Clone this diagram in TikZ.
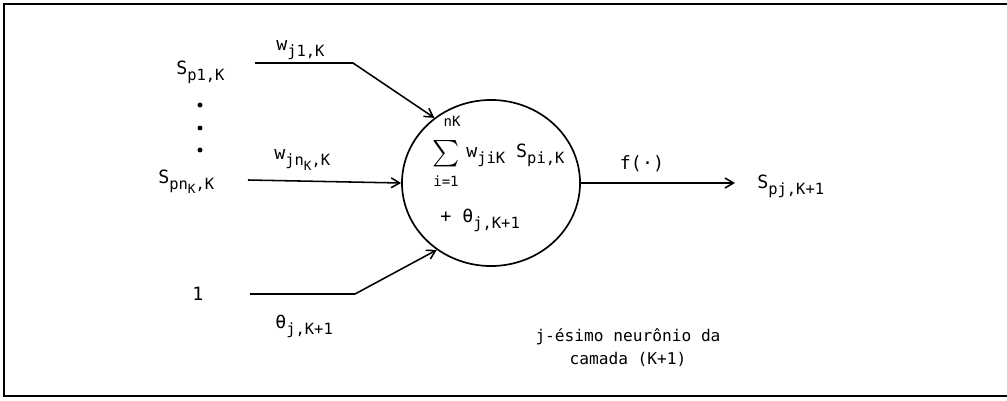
\documentclass[tikz,border=0pt]{standalone}
\usepackage{fontspec}
\setmainfont{DejaVu Sans Mono}
\usetikzlibrary{shapes.geometric,arrows.meta}
\newcommand{\sbx}[1]{\raisebox{-0.6ex}{\fontsize{11}{12}\selectfont #1}}
\newcommand{\sbxx}[1]{\raisebox{-0.5ex}{\fontsize{9}{10}\selectfont #1}}
\begin{document}
\begin{tikzpicture}[x=0.025cm,y=-0.025cm,
  lbl/.style={inner sep=0pt,font=\fontsize{13}{15}\selectfont},
  txt/.style={inner sep=0pt,font=\fontsize{11.5}{13}\selectfont},
  small/.style={inner sep=0pt,font=\fontsize{10}{11}\selectfont},
  arr/.style={line width=1.1pt,-{Straight Barb[length=6pt,width=7pt]}},
  dotm/.style={circle,fill,inner sep=0pt,minimum size=3.5pt}]
\useasboundingbox (0,0) rectangle (1007,401);
\draw[line width=1pt] (1007,4) -- (4,4) -- (4,396) -- (1007,396);
% neuron
\node[ellipse,draw,line width=1.2pt,minimum width=4.45cm,minimum height=4.15cm,inner sep=0pt] (c) at (491,183) {};
% inputs
\node[lbl,anchor=west] (s1) at (176,72) {S\sbx{p1,K}};
\node[dotm] (d1) at (200,105) {};
\node[dotm] (d2) at (200,128) {};
\node[dotm] (d3) at (200,150) {};
\node[lbl,anchor=west] (sn) at (158,182) {S\sbx{pn\sbxx{K},K}};
\node[lbl,anchor=west] (one) at (192,294) {1};
\coordinate (a1) at (255,63);
\coordinate (b1) at (353,63);
\coordinate (a2) at (248,180);
\coordinate (a3) at (250,294);
\coordinate (b3) at (355,294);
\draw[arr] (a1) -- (b1) -- (c.131);
\draw[arr] (a2) -- (c.west);
\draw[arr] (a3) -- (b3) -- (c.231);
\node[lbl,anchor=west] (w1) at (276,50) {w\sbx{j1,K}};
\node[lbl,anchor=west] (wn) at (274,160) {w\sbx{jn\sbxx{K},K}};
\node[lbl,anchor=west] (th) at (275,326) {θ\sbx{j,K+1}};
% inside
\node[inner sep=0pt] (sum) at (446,154) {\resizebox*{0.68cm}{0.66cm}{$\sum$}};
\node[small] (up) at (452,121) {nK};
\node[small] (lo) at (446,181) {i=1};
\node[lbl,anchor=west] (ws) at (466,155) {w\sbx{jiK} S\sbx{pi,K}};
\node[lbl,anchor=west] (pt) at (440,220) {+ θ\sbx{j,K+1}};
% output
\coordinate (o) at (735,183);
\draw[arr] (c.east) -- (o);
\node[lbl] (f) at (642,164) {f(·)};
\node[lbl,anchor=west] (out) at (757,186) {S\sbx{pj,K+1}};
% caption
\node[txt] (cap1) at (628,337) {j-ésimo neurônio da};
\node[txt] (cap2) at (628,359) {camada (K+1)};
\end{tikzpicture}
\end{document}
